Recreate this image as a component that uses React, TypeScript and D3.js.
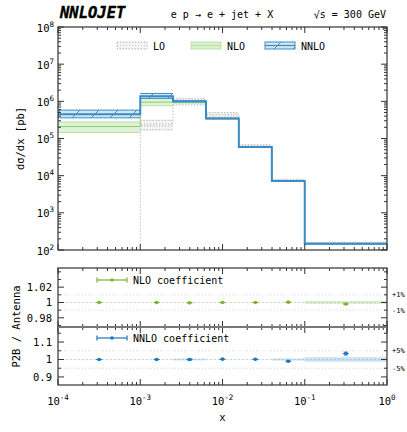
import * as d3 from 'd3';
import { useRef, useEffect } from 'react';

// bin edges in x
const binEdges = [1e-4, 1e-3, 2.5e-3, 6.3e-3, 1.58e-2, 3.98e-2, 0.1, 1];

// LO (zero in first bin)
const loVal = [0, 2.3e5, 9.8e5, 4.4e5, 6.3e4, 7.5e3, 155];
const loLow = [0, 1.7e5, 8.0e5, 3.8e5, 5.8e4, 7.0e3, 148];
const loHigh = [0, 3.1e5, 1.2e6, 5.0e5, 6.8e4, 8.0e3, 162];

const nloVal = [2.1e5, 9.5e5, 9.6e5, 3.45e5, 5.9e4, 7.2e3, 148];
const nloLow = [1.45e5, 7.6e5, 9.0e5, 3.35e5, 5.75e4, 7.0e3, 145];
const nloHigh = [2.8e5, 1.2e6, 1.0e6, 3.55e5, 6.05e4, 7.35e3, 151];

const nnloVal = [4.5e5, 1.38e6, 1.0e6, 3.46e5, 5.9e4, 7.2e3, 148];
const nnloLow = [3.6e5, 1.2e6, 0.97e6, 3.4e5, 5.8e4, 7.1e3, 146];
const nnloHigh = [5.8e5, 1.63e6, 1.03e6, 3.52e5, 6.0e4, 7.3e3, 150];

// ratio panels
const ratioX = [3.16e-4, 1.58e-3, 3.98e-3, 1e-2, 2.51e-2, 6.31e-2, 0.316];
const nloRatio = [1.0, 1.0, 0.9995, 1.0, 1.0, 1.0004, 0.998];
const nloRatioErr = [0.0003, 0.0003, 0.0003, 0.0003, 0.0003, 0.0003, 0.0008];
const nloBand = [0.0002, 0.0002, 0.0002, 0.0002, 0.0002, 0.0003, 0.0018];
const nnloRatio = [1.0, 1.0, 1.0, 1.002, 1.001, 0.99, 1.034];
const nnloRatioErr = [0.002, 0.002, 0.005, 0.002, 0.002, 0.003, 0.008];
const nnloBand = [0.001, 0.001, 0.005, 0.001, 0.001, 0.006, 0.013];

const xDecades = [-4, -3, -2, -1, 0];
const yDecades = [2, 3, 4, 5, 6, 7, 8];
const r1Ticks = [0.98, 1, 1.02];
const r2Ticks = [0.9, 1, 1.1];

const FONT = '"DejaVu Sans Mono", monospace';
const BLUE = '#3b8cc6';
const GREEN = '#8fcf6c';
const GRAY = '#bdbdbd';

const App = () => {
  const svgRef = useRef<SVGSVGElement>(null);

  useEffect(() => {
    const svg = d3.select(svgRef.current);
    svg.selectAll('*').remove();
    const L = 58, R = 387;
    const mTop = 27, mBot = 250;
    const r1Top = 268, r1Bot = 327, r2Top = 327, r2Bot = 385;

    const x = d3.scaleLog().domain([1e-4, 1]).range([L, R]);
    const y = d3.scaleLog().domain([1e2, 1e8]).range([mBot, mTop]);
    const yr1 = d3.scaleLinear().domain([0.968, 1.045]).range([r1Bot, r1Top]);
    const yr2 = d3.scaleLinear().domain([0.854, 1.186]).range([r2Bot, r2Top]);

    const defs = svg.append('defs');
    const hatch = defs.append('pattern').attr('id', 'hatch').attr('patternUnits', 'userSpaceOnUse')
      .attr('width', 19).attr('height', 19);
    hatch.append('path').attr('d', 'M0,19 L19,0 M-2,2 L2,-2 M17,21 L21,17')
      .attr('stroke', BLUE).attr('stroke-width', 1);
    const dots = defs.append('pattern').attr('id', 'dots').attr('patternUnits', 'userSpaceOnUse')
      .attr('width', 3).attr('height', 3);
    dots.append('rect').attr('width', 3).attr('height', 3).attr('fill', '#f4f4f4');
    dots.append('rect').attr('width', 1).attr('height', 1).attr('fill', '#cfcfcf');
    defs.append('clipPath').attr('id', 'mainclip').append('rect')
      .attr('x', L).attr('y', mTop).attr('width', R - L).attr('height', mBot - mTop);

    // titles
    svg.append('text').attr('x', 60).attr('y', 18).style('font-family', FONT)
      .style('font-size', '15.5px').style('font-weight', 'bold').style('font-style', 'italic')
      .attr('stroke', '#000').attr('stroke-width', 0.4)
      .text('NNLOJET');
    svg.append('text').attr('x', 222).attr('y', 18).attr('text-anchor', 'middle')
      .style('font-family', FONT).style('font-size', '10px').text('e p → e + jet + X');
    svg.append('text').attr('x', 386).attr('y', 18).attr('text-anchor', 'end')
      .style('font-family', FONT).style('font-size', '10px').text('√s = 300 GeV');

    const main = svg.append('g').attr('clip-path', 'url(#mainclip)');
    const yc = (v: number) => (v > 0 ? y(v) : mBot + 2);

    const stepPath = (vals: number[]) => {
      let p = `M${x(binEdges[0])},${yc(vals[0])}`;
      vals.forEach((v, i) => {
        p += ` V${yc(v)} H${x(binEdges[i + 1])}`;
      });
      return p;
    };

    const bands = (lo: number[], hi: number[], fill: string, stroke: string, dash: string | null) => {
      lo.forEach((l, i) => {
        if (hi[i] <= 0) return;
        const x0 = x(binEdges[i]), x1 = x(binEdges[i + 1]);
        main.append('rect').attr('x', x0).attr('y', y(hi[i])).attr('width', x1 - x0)
          .attr('height', y(l) - y(hi[i])).attr('fill', fill);
        [l, hi[i]].forEach(v => {
          main.append('line').attr('x1', x0).attr('x2', x1).attr('y1', y(v)).attr('y2', y(v))
            .attr('stroke', stroke).attr('stroke-width', 1).attr('stroke-dasharray', dash);
        });
      });
    };

    // LO
    bands(loLow, loHigh, 'url(#dots)', GRAY, '1.5,1.5');
    main.append('path').attr('d', stepPath(loVal)).attr('fill', 'none')
      .attr('stroke', GRAY).attr('stroke-width', 1).attr('stroke-dasharray', '1.5,1.5');
    // NLO
    bands(nloLow, nloHigh, 'rgba(150,210,120,0.3)', '#b9e2a2', null);
    main.append('path').attr('d', stepPath(nloVal)).attr('fill', 'none')
      .attr('stroke', GREEN).attr('stroke-width', 1);
    // NNLO
    bands(nnloLow, nnloHigh, 'rgba(59,140,198,0.22)', BLUE, null);
    nnloLow.forEach((l, i) => {
      const x0 = x(binEdges[i]), x1 = x(binEdges[i + 1]);
      main.append('rect').attr('x', x0).attr('y', y(nnloHigh[i])).attr('width', x1 - x0)
        .attr('height', y(l) - y(nnloHigh[i])).attr('fill', 'url(#hatch)');
    });
    main.append('path').attr('d', stepPath(nnloVal)).attr('fill', 'none')
      .attr('stroke', BLUE).attr('stroke-width', 2);

    // legend main
    const leg = [
      { label: 'LO', x: 117, fill: 'url(#dots)', stroke: GRAY, hatch: false },
      { label: 'NLO', x: 191, fill: 'rgba(150,210,120,0.35)', stroke: '#b9e2a2', hatch: false },
      { label: 'NNLO', x: 265, fill: 'rgba(59,140,198,0.22)', stroke: BLUE, hatch: true },
    ];
    leg.forEach(d => {
      svg.append('rect').attr('x', d.x).attr('y', 42).attr('width', 30).attr('height', 7)
        .attr('fill', d.fill).attr('stroke', d.stroke).attr('stroke-width', 1)
        .attr('stroke-dasharray', d.label === 'LO' ? '1.5,1.5' : null);
      if (d.hatch) {
        svg.append('rect').attr('x', d.x).attr('y', 42).attr('width', 30).attr('height', 7)
          .attr('fill', 'url(#hatch)');
        svg.append('line').attr('x1', d.x).attr('x2', d.x + 30).attr('y1', 45.5).attr('y2', 45.5)
          .attr('stroke', BLUE).attr('stroke-width', 1.2);
      } else if (d.label === 'NLO') {
        svg.append('line').attr('x1', d.x).attr('x2', d.x + 30).attr('y1', 45.5).attr('y2', 45.5)
          .attr('stroke', '#b9e2a2').attr('stroke-width', 1);
      }
      svg.append('text').attr('x', d.x + 36).attr('y', 50).style('font-family', FONT)
        .style('font-size', '10px').text(d.label);
    });

    // axes helpers
    const xTicks = (yPos: number, dir: number, len = 6) => {
      xDecades.forEach((e, i) => {
        const v = Math.pow(10, e);
        svg.append('line').attr('x1', x(v)).attr('x2', x(v)).attr('y1', yPos).attr('y2', yPos + dir * len)
          .attr('stroke', '#333');
        if (i < xDecades.length - 1) {
          for (let k = 2; k <= 9; k++) {
            const xv = x(k * v);
            svg.append('line').attr('x1', xv).attr('x2', xv).attr('y1', yPos).attr('y2', yPos + dir * len / 2)
              .attr('stroke', '#333');
          }
        }
      });
    };

    // main panel ticks
    xTicks(mTop, 1);
    xTicks(mBot, -1);
    yDecades.forEach((e, i) => {
      const v = Math.pow(10, e);
      [[L, 1], [R, -1]].forEach(([xp, dir]) => {
        svg.append('line').attr('x1', xp).attr('x2', xp + dir * 6).attr('y1', y(v)).attr('y2', y(v))
          .attr('stroke', '#333');
        if (i < yDecades.length - 1) {
          for (let k = 2; k <= 9; k++) {
            svg.append('line').attr('x1', xp).attr('x2', xp + dir * 3).attr('y1', y(k * v)).attr('y2', y(k * v))
              .attr('stroke', '#333');
          }
        }
      });
      const t = svg.append('text').attr('x', 54).attr('y', y(v) + 4.5).attr('text-anchor', 'end')
        .style('font-family', FONT).style('font-size', '10.5px');
      t.append('tspan').text('10');
      t.append('tspan').attr('dy', -5).style('font-size', '7.5px').text(String(e));
    });
    svg.append('rect').attr('x', L).attr('y', mTop).attr('width', R - L).attr('height', mBot - mTop)
      .attr('fill', 'none').attr('stroke', '#333').attr('stroke-width', 1.2);
    svg.append('text').attr('transform', `translate(24,${(mTop + mBot) / 2}) rotate(-90)`)
      .attr('text-anchor', 'middle').style('font-family', FONT).style('font-size', '10.5px')
      .text('dσ/dx [pb]');

    // ratio panels
    const ratioPanel = (ys: any, top: number, bot: number, vals: number[], errs: number[], band: number[],
      color: string, bandColor: string, ticks: number[], minor: number[], pct: number, label: string, legY: number) => {
      // grid
      [1 + pct, 1 - pct].forEach(v => {
        svg.append('line').attr('x1', L).attr('x2', R).attr('y1', ys(v)).attr('y2', ys(v))
          .attr('stroke', '#c8c8c8').attr('stroke-width', 0.8).attr('stroke-dasharray', '1,2');
      });
      svg.append('line').attr('x1', L).attr('x2', R).attr('y1', ys(1)).attr('y2', ys(1))
        .attr('stroke', '#d0d0d0').attr('stroke-width', 0.8).attr('stroke-dasharray', '2,2');
      // bands
      band.forEach((b, i) => {
        const x0 = x(binEdges[i]), x1 = x(binEdges[i + 1]);
        svg.append('rect').attr('x', x0).attr('y', ys(1 + b)).attr('width', x1 - x0)
          .attr('height', ys(1 - b) - ys(1 + b)).attr('fill', bandColor);
      });
      // points
      vals.forEach((v, i) => {
        const px = x(ratioX[i]);
        svg.append('line').attr('x1', px).attr('x2', px).attr('y1', ys(v + errs[i])).attr('y2', ys(v - errs[i]))
          .attr('stroke', color).attr('stroke-width', 1);
        [v + errs[i], v - errs[i]].forEach(ev => {
          svg.append('line').attr('x1', px - 2).attr('x2', px + 2).attr('y1', ys(ev)).attr('y2', ys(ev))
            .attr('stroke', color).attr('stroke-width', 1);
        });
        svg.append('line').attr('x1', px - 3).attr('x2', px + 3).attr('y1', ys(v)).attr('y2', ys(v))
          .attr('stroke', color).attr('stroke-width', 1);
        svg.append('circle').attr('cx', px).attr('cy', ys(v)).attr('r', 1.8).attr('fill', color);
      });
      // legend
      svg.append('line').attr('x1', 97).attr('x2', 127).attr('y1', legY).attr('y2', legY)
        .attr('stroke', color).attr('stroke-width', 1.2);
      [97, 127].forEach(cx => {
        svg.append('line').attr('x1', cx).attr('x2', cx).attr('y1', legY - 2.5).attr('y2', legY + 2.5)
          .attr('stroke', color).attr('stroke-width', 1.2);
      });
      svg.append('circle').attr('cx', 112).attr('cy', legY).attr('r', 1.8).attr('fill', color);
      svg.append('text').attr('x', 133).attr('y', legY + 4).style('font-family', FONT)
        .style('font-size', '10px').text(label);
      // ticks
      xTicks(top, 1);
      xTicks(bot, -1);
      ticks.forEach(v => {
        [[L, 1], [R, -1]].forEach(([xp, dir]) => {
          svg.append('line').attr('x1', xp).attr('x2', xp + dir * 6).attr('y1', ys(v)).attr('y2', ys(v))
            .attr('stroke', '#333');
        });
        svg.append('text').attr('x', 52).attr('y', ys(v) + 4).attr('text-anchor', 'end')
          .style('font-family', FONT).style('font-size', '10.5px').text(String(v));
      });
      minor.forEach(v => {
        [[L, 1], [R, -1]].forEach(([xp, dir]) => {
          svg.append('line').attr('x1', xp).attr('x2', xp + dir * 3).attr('y1', ys(v)).attr('y2', ys(v))
            .attr('stroke', '#333');
        });
      });
      // right percentage labels
      [[1 + pct, `+${Math.round(pct * 100)}%`], [1 - pct, `-${Math.round(pct * 100)}%`]].forEach(([v, t]) => {
        svg.append('text').attr('x', 392).attr('y', ys(v as number) + 2.5).style('font-family', FONT)
          .style('font-size', '7px').text(t as string);
      });
      svg.append('rect').attr('x', L).attr('y', top).attr('width', R - L).attr('height', bot - top)
        .attr('fill', 'none').attr('stroke', '#333').attr('stroke-width', 1.2);
    };

    ratioPanel(yr1, r1Top, r1Bot, nloRatio, nloRatioErr, nloBand, '#7ab52c', 'rgba(150,200,110,0.35)',
      r1Ticks, [0.97, 0.99, 1.01, 1.03, 1.04], 0.01, 'NLO coefficient', 280);
    ratioPanel(yr2, r2Top, r2Bot, nnloRatio, nnloRatioErr, nnloBand, '#1a76c4', 'rgba(110,170,215,0.35)',
      r2Ticks, [0.95, 1.05, 1.15], 0.05, 'NNLO coefficient', 338);

    svg.append('line').attr('x1', L).attr('x2', R).attr('y1', r1Bot).attr('y2', r1Bot)
      .attr('stroke', '#777').attr('stroke-width', 2);

    // x tick labels
    xDecades.forEach(e => {
      const t = svg.append('text').attr('x', x(Math.pow(10, e))).attr('y', 405).attr('text-anchor', 'middle')
        .style('font-family', FONT).style('font-size', '10.5px');
      t.append('tspan').text('10');
      t.append('tspan').attr('dy', -5).style('font-size', '7.5px').text(String(e));
    });
    svg.append('text').attr('x', (L + R) / 2).attr('y', 421).attr('text-anchor', 'middle')
      .style('font-family', FONT).style('font-size', '10.5px').text('x');
    svg.append('text').attr('transform', `translate(20,${(r1Top + r2Bot) / 2}) rotate(-90)`)
      .attr('text-anchor', 'middle').style('font-family', FONT).style('font-size', '10.5px')
      .text('P2B / Antenna');
  }, []);

  return (
    <div style={{ position: 'absolute', left: 0, top: 0 }}>
      <svg ref={svgRef} width={407} height={432} style={{ display: 'block', background: 'white' }}></svg>
    </div>
  );
};

export default App;
